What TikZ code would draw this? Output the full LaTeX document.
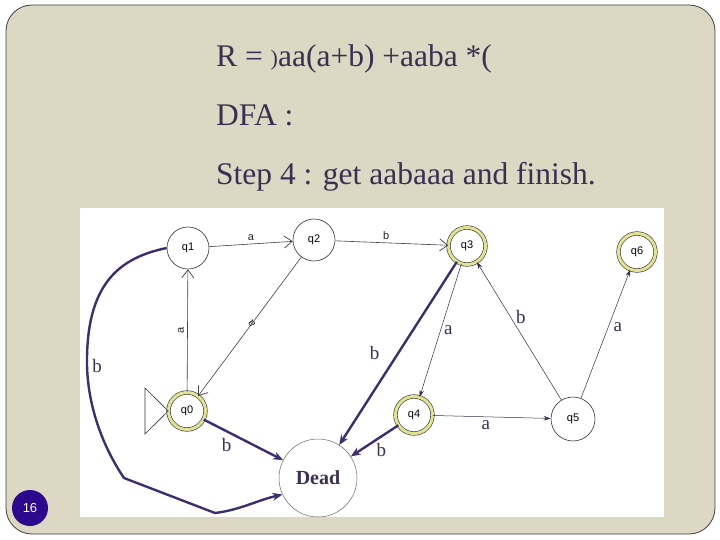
\documentclass[tikz,border=0pt]{standalone}
\usepackage{fontspec}
\setmainfont{Liberation Serif}
\newfontfamily\lsans{Liberation Sans}
\usetikzlibrary{arrows.meta}
\definecolor{slidebg}{RGB}{221,216,196}
\definecolor{txtcol}{RGB}{60,48,82}
\definecolor{deadcol}{RGB}{62,46,108}
\definecolor{ringyel}{RGB}{226,226,150}
\definecolor{pagecol}{RGB}{44,8,140}
\tikzset{
  st/.style={circle,draw=black!80,line width=0.6pt,fill=white,minimum size=42pt,inner sep=0pt,font=\lsans\fontsize{11}{11}\selectfont},
  acc/.style={st,double=ringyel,double distance=3pt,minimum size=37pt},
  thinedge/.style={draw=black!75,line width=0.6pt,-{Straight Barb[length=8pt,width=12pt,line width=0.7pt]}},
  thinedge2/.style={draw=txtcol!90!black,line width=0.5pt,-{Stealth[length=7pt,width=4.5pt]}},
  deadedge/.style={draw=deadcol,line width=2.4pt,-{Stealth[length=10pt,width=8pt]}},
  sl/.style={font=\lsans\fontsize{11}{11}\selectfont,text=black!85},
  el/.style={font=\fontsize{19}{19}\selectfont,text=txtcol},
  hd/.style={font=\fontsize{31.5}{31.5}\selectfont,text=txtcol,anchor=base west,inner sep=0pt}
}
\begin{document}
\begin{tikzpicture}[x=1pt,y=-1pt]
\useasboundingbox (0,0) rectangle (720,540);
\fill[white] (0,0) rectangle (720,540);
\draw[fill=slidebg,draw=black!75,line width=0.8pt,rounded corners=26pt] (6,5) rectangle (715,534);
\fill[white] (80,208) rectangle (664,517);
% heading
\node[hd] (t1) at (216,67) {R = \raisebox{1pt}{\fontsize{22}{22}\selectfont)}aa(a+b) +aaba *(};
\node[hd] (t2) at (216,126) {DFA :};
\node[hd] (t3) at (216,185) {Step 4 : get aabaaa and finish.};
% states
\node[st] (q1) at (188,248) {q1};
\node[st] (q2) at (314,240) {q2};
\node[acc] (q3) at (467,246) {q3};
\node[acc] (q6) at (637,252) {q6};
\node[acc] (q0) at (187,411) {q0};
\node[acc] (q4) at (414,415) {q4};
\node[st,minimum size=44pt] (q5) at (573,419) {q5};
\node[circle,draw=black!60,line width=0.5pt,fill=white,minimum size=78pt,inner sep=0pt,font=\bfseries\fontsize{20}{20}\selectfont,text=txtcol] (dead) at (318,478) {Dead};
% start marker
\coordinate (s1) at (145,388);
\coordinate (s2) at (145,434);
\draw[black!80,line width=0.6pt] (s1) -- (q0.west) -- (s2) -- cycle;
% thin edges
\draw[thinedge] (q1) -- node[sl,above] {a} (q2);
\draw[thinedge] (q2) -- node[sl,above,pos=0.45] {b} (q3);
\draw[thinedge] (q0) -- node[sl,left,rotate=90,anchor=south] {a} (q1);
\draw[thinedge] (q2) -- node[sl,pos=0.48,rotate=125] {a} (q0);
\draw[thinedge2] (q3) -- node[el,right,pos=0.5] {a} (q4);
\draw[thinedge2] (q5) -- node[el,right,pos=0.6,xshift=2pt] {b} (q3);
\draw[thinedge2] (q5) -- node[el,right,pos=0.55,xshift=2pt] {a} (q6);
\draw[thinedge2] (q4) -- node[el,below,pos=0.45] {a} (q5);
% dead edges
\draw[deadedge] (q3) -- node[el,left,pos=0.5,xshift=-14pt] {b} (dead);
\draw[deadedge] (q0) -- node[el,below left,pos=0.33,xshift=6pt,yshift=-1pt] {b} (dead);
\draw[deadedge] (q4) -- node[el,below,pos=0.4,yshift=-1pt,xshift=2pt] {b} (dead);
\coordinate (c1) at (87,365);
\coordinate (c2) at (124,478);
\coordinate (c3) at (215,513);
\draw[deadedge] (q1.west) .. controls (118,258) and (86,285) .. (c1)
  .. controls (88,410) and (105,450) .. (c2) -- (c3)
  .. controls (240,510) and (258,500) .. (dead.205);
\node[el] (lb) at (97,366) {b};
% page number
\node[circle,fill=pagecol,minimum size=36pt,inner sep=0pt,text=white,font=\lsans\fontsize{13}{13}\selectfont] (pg) at (30,508) {16};
\end{tikzpicture}
\end{document}
